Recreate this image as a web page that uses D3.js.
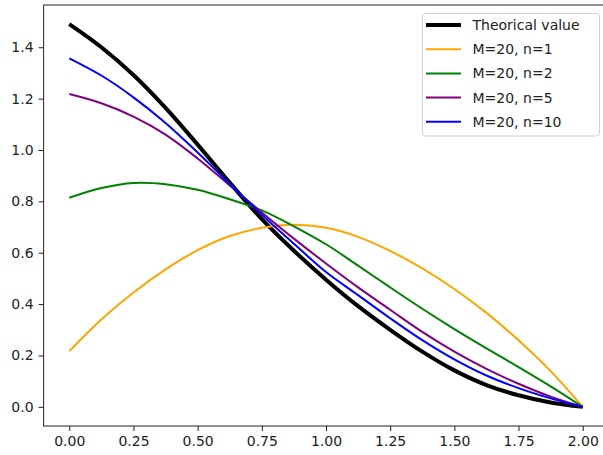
<!DOCTYPE html>
<html>
<head>
<meta charset="utf-8">
<script src="https://cdn.jsdelivr.net/npm/d3@7"></script>
<style>
  body { margin: 0; background: #fff; }
  text { font-family: "DejaVu Sans", sans-serif; }
</style>
</head>
<body>
<div id="chart"></div>
<script>
var width = 603
var height = 455

// x positions where the curves were read
var xs = [0, 0.125, 0.25, 0.375, 0.5, 0.625, 0.75, 0.875, 1.0,
          1.125, 1.25, 1.375, 1.5, 1.625, 1.75, 1.875, 2.0];

var theorical = [1.49, 1.40, 1.292, 1.164, 1.021, 0.873, 0.731, 0.608, 0.495,
                 0.392, 0.30, 0.215, 0.142, 0.085, 0.045, 0.017, 0.0];
var n1 = [0.217, 0.34, 0.445, 0.535, 0.61, 0.665, 0.697, 0.709, 0.697,
          0.662, 0.607, 0.539, 0.459, 0.366, 0.259, 0.139, 0.0];
var n2 = [0.814, 0.852, 0.872, 0.867, 0.845, 0.808, 0.765, 0.703, 0.633,
          0.55, 0.465, 0.382, 0.303, 0.228, 0.155, 0.08, 0.0];
var n5 = [1.218, 1.182, 1.13, 1.06, 0.967, 0.862, 0.757, 0.655, 0.558,
          0.465, 0.378, 0.292, 0.215, 0.148, 0.09, 0.04, 0.0];
var n10 = [1.357, 1.29, 1.205, 1.105, 0.99, 0.868, 0.748, 0.635, 0.525,
           0.435, 0.345, 0.26, 0.185, 0.122, 0.073, 0.033, 0.0];

var seriesNames = ["Theorical value", "M=20, n=1", "M=20, n=2", "M=20, n=5", "M=20, n=10"];
var seriesValues = [theorical, n1, n2, n5, n10];
var seriesColors = ["black", "orange", "green", "purple", "blue"];
var seriesWidths = [4, 2, 2, 2, 2];

var xTicks = [0, 0.25, 0.5, 0.75, 1.0, 1.25, 1.5, 1.75, 2.0];
var yTicks = [0, 0.2, 0.4, 0.6, 0.8, 1.0, 1.2, 1.4];

var plot = {left: 43.6, top: 5, right: 608.4, bottom: 426};

var x = d3.scaleLinear().domain([-0.1, 2.1]).range([plot.left, plot.right]);
var y = d3.scaleLinear().domain([-0.0745, 1.5645]).range([plot.bottom, plot.top]);

var svg = d3.select("#chart").append("svg")
    .attr("width", width)
    .attr("height", height);

svg.append("rect").attr("width", width).attr("height", height).attr("fill", "#fff");

// axes
var xAxis = svg.append("g")
    .attr("transform", "translate(0," + plot.bottom + ")")
    .call(d3.axisBottom(x).tickValues(xTicks).tickFormat(d3.format(".2f")).tickSizeOuter(0).tickSize(5).tickPadding(5));
var yAxis = svg.append("g")
    .attr("transform", "translate(" + plot.left + ",0)")
    .call(d3.axisLeft(y).tickValues(yTicks).tickFormat(d3.format(".1f")).tickSizeOuter(0).tickSize(5).tickPadding(5));

[xAxis, yAxis].forEach(function(a) {
  a.select(".domain").remove();
  a.selectAll("text").attr("font-size", 14).attr("fill", "#222").attr("font-family", "DejaVu Sans, sans-serif");
  a.selectAll("line").attr("stroke", "#222").attr("stroke-width", 1);
});

// curves
var line = d3.line()
    .x(function(d) { return x(d[0]); })
    .y(function(d) { return y(d[1]); })
    .curve(d3.curveCatmullRom.alpha(0.5));

svg.append("defs").append("clipPath").attr("id", "clip")
  .append("rect").attr("x", plot.left).attr("y", plot.top)
  .attr("width", plot.right - plot.left).attr("height", plot.bottom - plot.top);

svg.append("g").attr("clip-path", "url(#clip)")
  .selectAll("path")
  .data(seriesValues)
  .enter()
  .append("path")
    .attr("d", function(vals) { return line(vals.map(function(v, i) { return [xs[i], v]; })); })
    .attr("fill", "none")
    .attr("stroke", function(d, i) { return seriesColors[i]; })
    .attr("stroke-width", function(d, i) { return seriesWidths[i]; })
    .attr("stroke-linejoin", "round")
    .attr("stroke-linecap", "butt");

// spines
svg.append("rect")
    .attr("x", plot.left).attr("y", plot.top)
    .attr("width", plot.right - plot.left).attr("height", plot.bottom - plot.top)
    .attr("fill", "none").attr("stroke", "#222").attr("stroke-width", 1);

// legend
var legend = svg.append("g");
legend.append("rect")
    .attr("x", 422.5).attr("y", 13.5)
    .attr("width", 177).attr("height", 122.5)
    .attr("rx", 3)
    .attr("fill", "#fff").attr("fill-opacity", 0.8)
    .attr("stroke", "#d0d0d0").attr("stroke-width", 1);

var rows = legend.selectAll(".row")
    .data(seriesNames)
    .enter().append("g")
    .attr("class", "row")
    .attr("transform", function(d, i) { return "translate(0," + (25 + i * 24.2) + ")"; });

rows.append("line")
    .attr("x1", 426).attr("x2", 461)
    .attr("stroke", function(d, i) { return seriesColors[i]; })
    .attr("stroke-width", function(d, i) { return seriesWidths[i]; });

rows.append("text")
    .attr("x", 472.5)
    .attr("y", 5)
    .attr("font-size", 14)
    .attr("fill", "#222")
    .text(function(d) { return d; });
</script>
</body>
</html>
